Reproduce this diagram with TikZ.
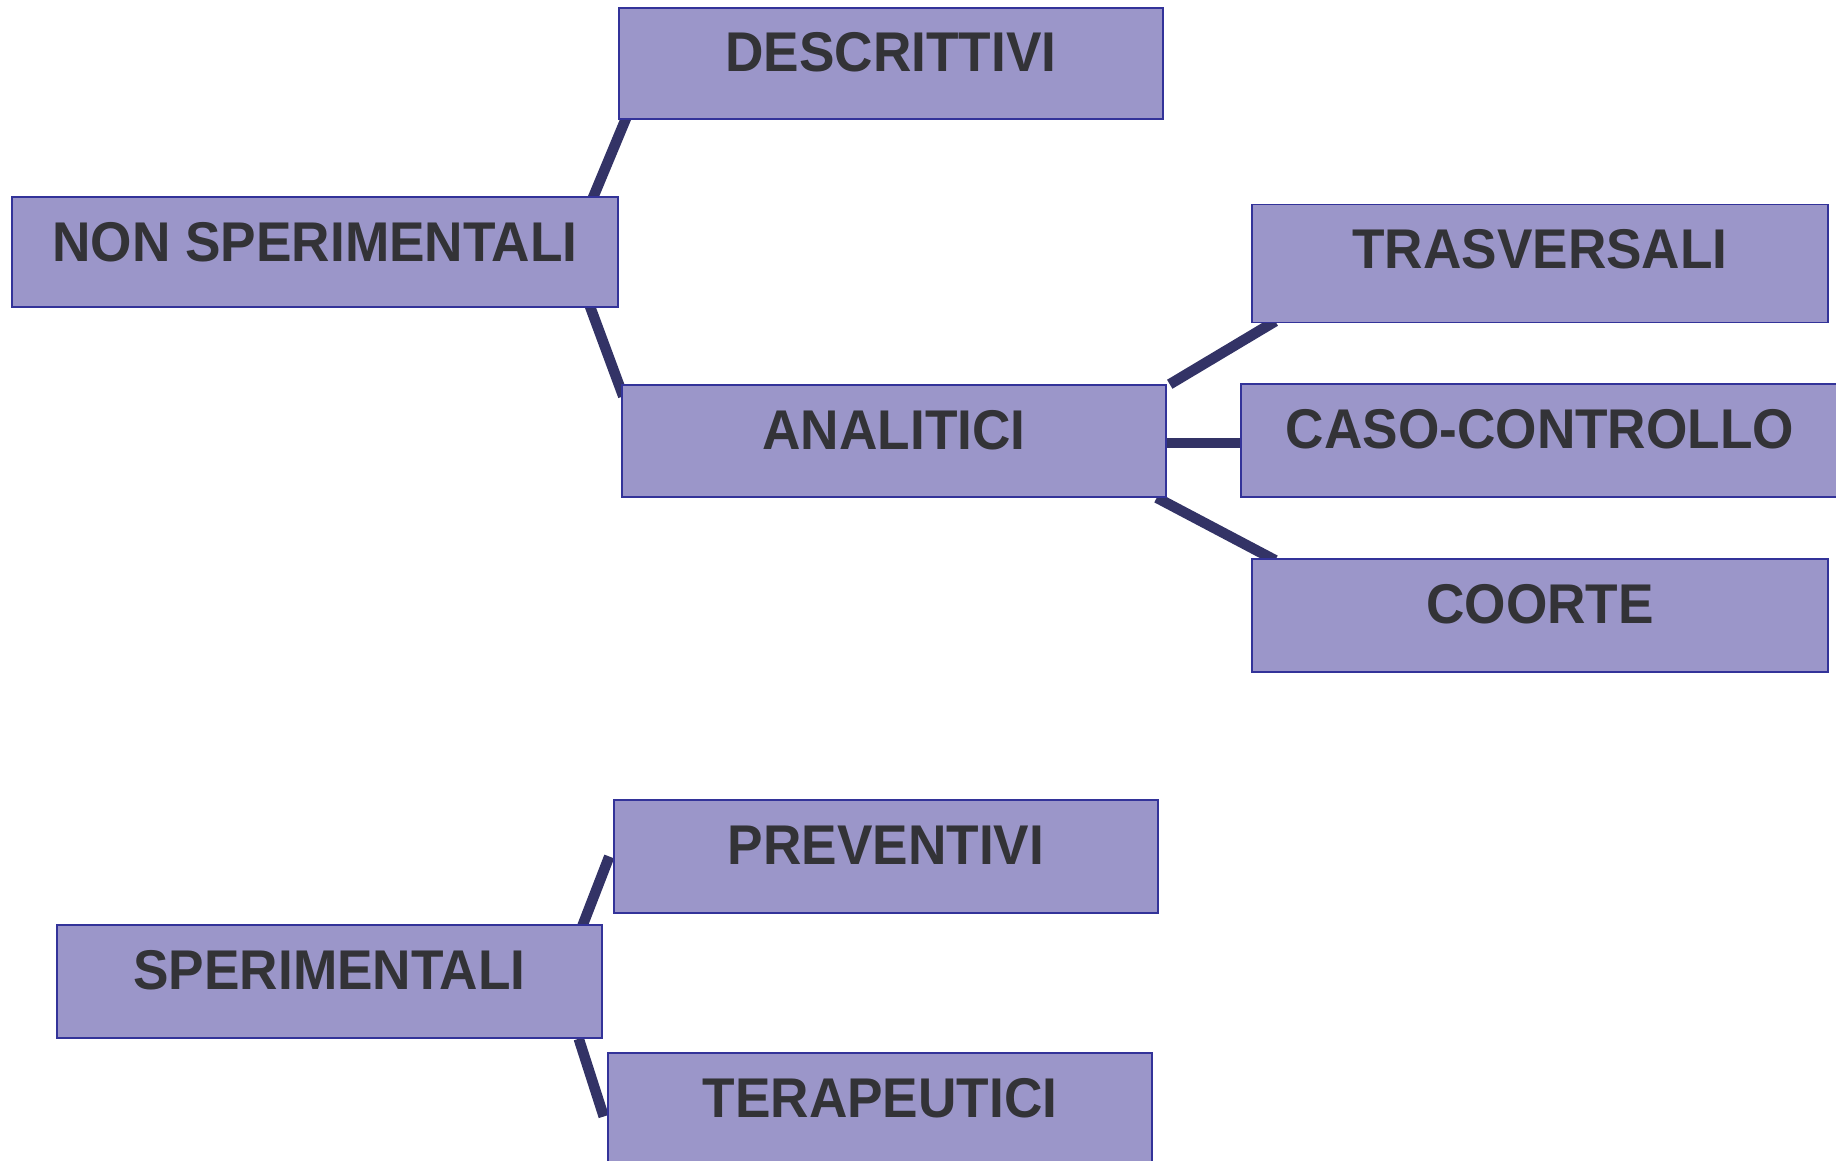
\documentclass[tikz,border=0pt]{standalone}
\usepackage{fontspec}
\setmainfont{Liberation Sans}[FakeStretch=0.95]
\usetikzlibrary{calc,backgrounds}
\definecolor{boxfill}{RGB}{155,150,201}
\definecolor{boxdraw}{RGB}{51,51,153}
\definecolor{linkcol}{RGB}{51,51,102}
\definecolor{txtcol}{RGB}{51,51,55}
\tikzset{
  catbox/.style={draw=boxdraw, line width=1.5pt, fill=boxfill, rectangle,
    inner xsep=0pt, inner ysep=0pt, text=txtcol,
    font=\fontsize{56}{60}\selectfont\bfseries, text height=64pt},
  link/.style={draw=linkcol, line width=10.5pt}
}
\begin{document}
\begin{tikzpicture}[x=1pt,y=-1pt]
\useasboundingbox (0,0) rectangle (1836,1161);
% nodes
\node[catbox, minimum width=544pt, minimum height=111pt, text depth=47pt] (desc) at (891,63.5) {DESCRITTIVI};
\node[catbox, minimum width=606pt, minimum height=110pt, text depth=46pt] (ns) at (315,252) {NON SPERIMENTALI};
\node[catbox, minimum width=544pt, minimum height=112pt, text depth=48pt] (anal) at (894,441) {ANALITICI};
\node[catbox, minimum width=576pt, minimum height=118pt, text depth=54pt] (trasv) at (1540,263.5) {TRASVERSALI};
\node[catbox, minimum width=598pt, minimum height=113pt, text depth=49pt] (caso) at (1540,440.5) {CASO-CONTROLLO};
\node[catbox, minimum width=576pt, minimum height=113pt, text depth=49pt] (coorte) at (1540,615.5) {COORTE};
\node[catbox, minimum width=544pt, minimum height=113pt, text depth=49pt] (prev) at (886,856.5) {PREVENTIVI};
\node[catbox, minimum width=545pt, minimum height=113pt, text depth=49pt] (sp) at (329.5,981.5) {SPERIMENTALI};
\node[catbox, minimum width=544pt, minimum height=113pt, text depth=49pt] (ter) at (880,1109.5) {TERAPEUTICI};
% connectors (behind boxes)
\begin{scope}[on background layer]
\draw[link] ($(ns.north east)+(-26,2)$) -- ($(desc.south west)+(8,-2)$);
\draw[link] ($(ns.south east)+(-29,-2)$) -- ($(anal.north west)+(2,12)$);
\draw[link] ($(anal.north east)+(3,0)$) -- ($(trasv.south west)+(24,-2)$);
\draw[link] ($(anal.east)+(-2,2)$) -- ($(caso.west)+(2,2.5)$);
\draw[link] ($(anal.south east)+(-10,0)$) -- ($(coorte.north west)+(24,2)$);
\draw[link] ($(sp.north east)+(-20.5,2)$) -- ($(prev.west)+(-4,0)$);
\draw[link] ($(sp.south east)+(-24,0)$) -- ($(ter.west)+(-3.5,7)$);
\end{scope}
\end{tikzpicture}
\end{document}
